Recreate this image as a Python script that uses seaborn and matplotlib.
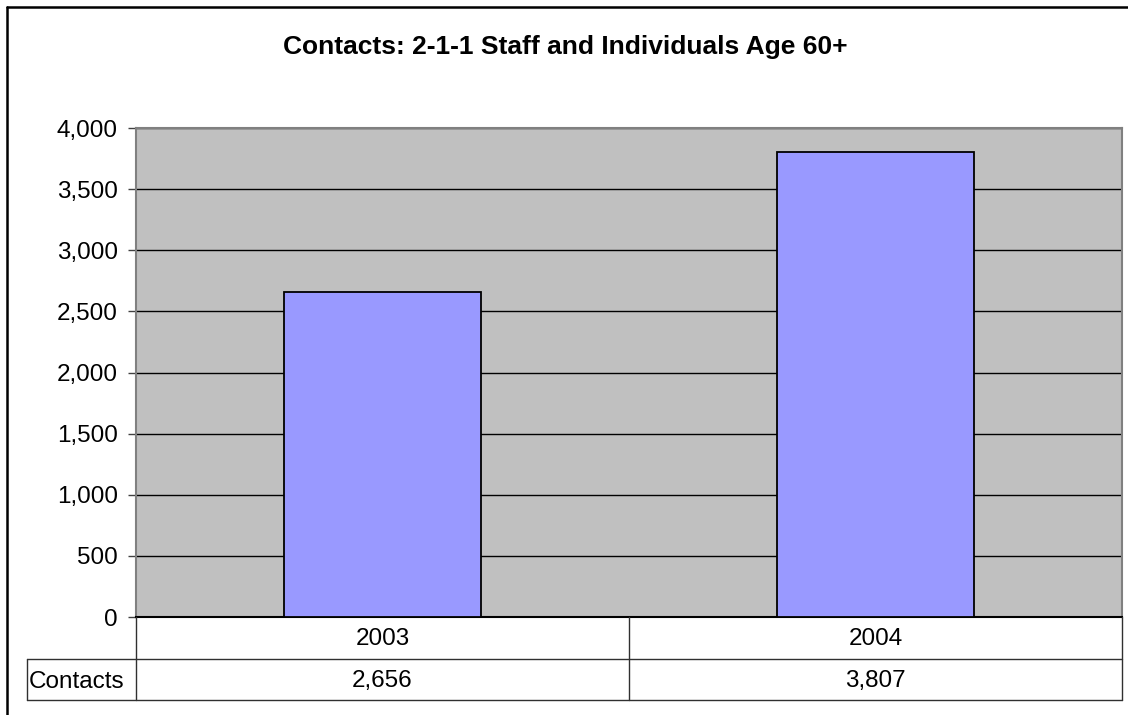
import matplotlib
matplotlib.use("Agg")
import matplotlib.pyplot as plt
import seaborn as sns
import pandas as pd
from matplotlib.lines import Line2D
from matplotlib.ticker import FuncFormatter

years = ["2003", "2004"]
contacts = [2656, 3807]
series_name = "Contacts"
title = "Contacts: 2-1-1 Staff and Individuals Age 60+"
y_ticks = [0, 500, 1000, 1500, 2000, 2500, 3000, 3500, 4000]

sns.set_theme(style="white")
plt.rcParams["font.family"] = ["Liberation Sans", "DejaVu Sans"]
plt.rcParams["text.color"] = "black"
plt.rcParams["ytick.labelcolor"] = "black"

W, H = 1128, 715
fig = plt.figure(figsize=(W / 100, H / 100), dpi=100)

def fx(px):
    return px / W

def fy(py):
    return 1 - py / H

L, R, T, B = 136, 1122, 128, 617
ax = fig.add_axes([fx(L), fy(B), fx(R) - fx(L), fy(T) - fy(B)])

df = pd.DataFrame({"Year": years, "Contacts": contacts})
sns.barplot(data=df, x="Year", y="Contacts", ax=ax, color="#9999FF",
            saturation=1, width=0.4, edgecolor="black", linewidth=1.3, zorder=3)

ax.set_facecolor("#C0C0C0")
ax.set_ylim(0, 4000)
ax.set_xlim(-0.5, len(years) - 0.5)
ax.set_yticks(y_ticks)
ax.yaxis.set_major_formatter(FuncFormatter(lambda v, p: f"{int(v):,}"))
ax.set_axisbelow(True)
ax.yaxis.grid(True, color="black", linewidth=1.0)
ax.xaxis.grid(False)
ax.set_xlabel("")
ax.set_ylabel("")
ax.set_xticks([])
ax.tick_params(axis="y", direction="out", length=6, width=1, color="#404040",
               pad=7, labelsize=17.5, labelcolor="black", left=True)
for side in ["top", "right", "left"]:
    ax.spines[side].set_color("#808080")
    ax.spines[side].set_linewidth(1.5)
ax.spines["bottom"].set_color("black")
ax.spines["bottom"].set_linewidth(1.5)

# Title
fig.text(fx(565), fy(47), title, ha="center", va="center",
         fontsize=19, fontweight="bold", color="black")

# Data table
r0, r1, r2 = B, 659, 700
xl = 27
mid = (L + R) / 2
lc = "#303030"
def hline(y, x0, x1):
    fig.add_artist(Line2D([fx(x0), fx(x1)], [fy(y), fy(y)], color=lc, lw=1.0))
def vline(x, y0, y1):
    fig.add_artist(Line2D([fx(x), fx(x)], [fy(y0), fy(y1)], color=lc, lw=1.0))

hline(r1, xl, R)
hline(r2, xl, R)
vline(L, r0, r2)
vline(mid, r0, r2)
vline(R, r0, r2)
vline(xl, r1, r2)

fs = 17.5
centers = [L + (R - L) * (i + 0.5) / len(years) for i in range(len(years))]
for cx, yr, val in zip(centers, years, contacts):
    fig.text(fx(cx), fy((r0 + r1) / 2 + 1), yr, ha="center", va="center", fontsize=fs, color="black")
    fig.text(fx(cx), fy((r1 + r2) / 2 + 2), f"{val:,}", ha="center", va="center", fontsize=fs, color="black")
fig.text(fx(xl + 2), fy((r1 + r2) / 2 + 2), series_name, ha="left", va="center", fontsize=fs, color="black")

# Chart frame (left and top edges visible)
fig.add_artist(Line2D([fx(7), fx(7)], [fy(7), 0], color="black", lw=1.8))
fig.add_artist(Line2D([fx(7), 1], [fy(7), fy(7)], color="black", lw=1.8))

fig.savefig("out.png", dpi=100, facecolor="white")
